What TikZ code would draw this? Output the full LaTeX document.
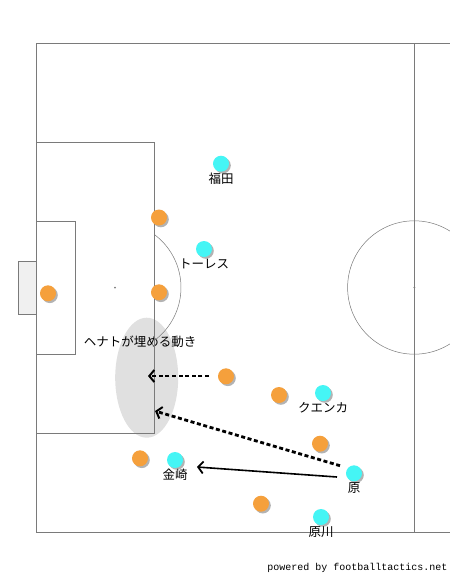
\documentclass[tikz,border=0pt]{standalone}
\usepackage{fontspec}
\setmonofont{Liberation Mono}
\newfontfamily\jpfont{Noto Sans CJK JP}
\usepackage{tikz}
\usetikzlibrary{calc, shapes.geometric, shadows, arrows.meta, positioning}
\definecolor{pitchgray}{HTML}{7A7A7A}
\definecolor{orangep}{HTML}{F5A03C}
\definecolor{cyanp}{HTML}{45F5F5}
\tikzstyle{pitchline}=[draw=pitchgray, line width=0.8pt]
\tikzstyle{player}=[shape=circle, inner sep=0pt, minimum size=16pt, drop shadow={shadow xshift=1.8pt, shadow yshift=-1.8pt, opacity=0.6}]
\tikzstyle{home}=[player, fill=orangep]
\tikzstyle{away}=[player, fill=cyanp]
\tikzstyle{plabel}=[font=\jpfont\fontsize{12.5}{14}\selectfont, inner sep=1pt]
\tikzstyle{runline}=[line width=2.8pt, dash pattern=on 4pt off 2.6pt, -{Straight Barb[length=5pt,width=12pt,line width=2pt]}]
\tikzstyle{passline}=[line width=1.6pt, -{Straight Barb[length=5pt,width=12pt,line width=1.8pt]}]

\begin{document}
\begin{tikzpicture}[x=1pt,y=-1pt]
\useasboundingbox (0,0) rectangle (450,576);
\clip (0,0) rectangle (450,576);
%zone
\node[shape=ellipse, fill=black!12, minimum width=63pt, minimum height=120pt, inner sep=0pt] (zone) at (146.7,377.7) {};
\node[plabel, anchor=center] (zonetext) at (140,342) {ヘナトが埋める動き};
%pitch
\draw[pitchline, fill=black!6] (36,261) -- (18,261) -- (18,314.3) -- (36,314.3);
\draw[pitchline] (450,43) -- (36,43) -- (36,532) -- (450,532);
\draw[pitchline] (36,142.3) -- (154.3,142.3) -- (154.3,433.3) -- (36,433.3);
\draw[pitchline] (36,221.7) -- (75.3,221.7) -- (75.3,354) -- (36,354);
\draw[pitchline] (414.3,43) -- (414.3,532);
\draw[draw=pitchgray, line width=0.5pt] (115,287.5) ++(-53.5:66) arc[start angle=-53.5, end angle=53.5, radius=66];
\draw[draw=pitchgray, line width=0.5pt] (414.3,287.5) circle[radius=66.7];
\fill[pitchgray] (115,287.5) circle[radius=1] (414.3,287.5) circle[radius=1];
%players
\foreach \x/\y [count=\i] in {159/217.5, 48/293.3, 159/292.3, 226/376.3, 279/395, 320/443.7, 140/458.3, 261/503.7}{
	\node[home] (h\i) at (\x,\y) {};
}
\foreach \x/\y/\n/\t in {221/163.7/a1/福田, 204/249/a2/トーレス, 323/393/a3/クエンカ, 354/473.3/a4/原, 175/460/a5/金崎, 321/517/a6/原川}{
	\node[away] (\n) at (\x,\y) {};
	\node[plabel, below=0pt of \n] {\t};
}
%movements
\coordinate (r1s) at (209,376); \coordinate (r1e) at (148,376);
\coordinate (r2s) at (340,465.7); \coordinate (r2e) at (155,411);
\coordinate (ps) at (337,477); \coordinate (pe) at (197,467);
\draw[runline] (r1s) -- (r1e);
\draw[runline] (r2s) -- (r2e);
\draw[passline] (ps) -- (pe);
\node[font=\ttfamily\fontsize{10}{12}\selectfont, inner sep=0pt] (credit) at (357.5,567.7) {powered by footballtactics.net};
\end{tikzpicture}
\end{document}
